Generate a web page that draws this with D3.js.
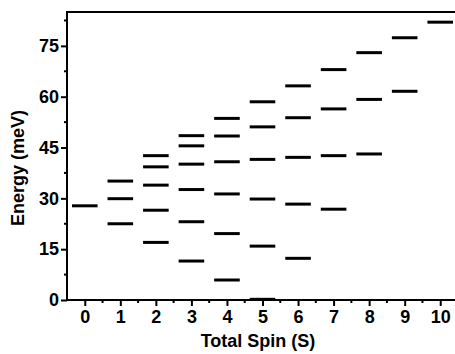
<!DOCTYPE html>
<html>
<head>
<meta charset="utf-8">
<script src="https://cdn.jsdelivr.net/npm/d3@7"></script>
<style>
  body { margin: 0; background: #fff; }
  svg { display: block; overflow: hidden; }
  text { font-family: 'Liberation Sans', Arial, sans-serif; font-weight: bold; fill: #000; }
</style>
</head>
<body>
<div id="chart"></div>
<script>
// total spin values and energy levels (meV)
var spins = [0, 1, 2, 3, 4, 5, 6, 7, 8, 9, 10]
var levels = [
  [27.8],
  [22.5, 29.9, 35.1],
  [17.0, 26.5, 33.9, 39.3, 42.6],
  [11.5, 23.1, 32.6, 40.1, 45.5, 48.5],
  [5.9, 19.6, 31.3, 40.8, 48.4, 53.6],
  [0.2, 15.9, 29.8, 41.5, 51.1, 58.5],
  [12.3, 28.3, 42.1, 53.8, 63.2],
  [26.8, 42.6, 56.4, 68.0],
  [43.1, 59.2, 73.0],
  [61.6, 77.4],
  [82.0]
]
var yTicks = [0, 15, 30, 45, 60, 75]

var width = 455
var height = 354
var margin = { top: 12, right: -3, bottom: 54, left: 67 }

var svg = d3.select('#chart').append('svg')
  .attr('width', width)
  .attr('height', height)

var x = d3.scaleLinear()
  .domain([-0.5, 10.5])
  .range([margin.left, width - margin.right])

var y = d3.scaleLinear()
  .domain([0, 85])
  .range([height - margin.bottom, margin.top])

// frame (right side falls outside the picture)
svg.append('rect')
  .attr('x', x(-0.5))
  .attr('y', y(85))
  .attr('width', x(10.5) - x(-0.5))
  .attr('height', y(0) - y(85))
  .attr('fill', 'none')
  .attr('stroke', '#000')
  .attr('stroke-width', 2)

// minor ticks
var yMinor = d3.range(7.5, 85, 15)
svg.selectAll('.ymin')
  .data(yMinor)
  .enter().append('line')
  .attr('x1', x(-0.5) - 3).attr('x2', x(-0.5))
  .attr('y1', function (d) { return y(d) })
  .attr('y2', function (d) { return y(d) })
  .attr('stroke', '#000').attr('stroke-width', 2)

var xMinor = d3.range(0.5, 10.5, 1)
svg.selectAll('.xmin')
  .data(xMinor)
  .enter().append('line')
  .attr('x1', function (d) { return x(d) })
  .attr('x2', function (d) { return x(d) })
  .attr('y1', y(0)).attr('y2', y(0) + 3)
  .attr('stroke', '#000').attr('stroke-width', 2)

var yAxis = svg.append('g')
  .attr('transform', 'translate(' + x(-0.5) + ',0)')
  .call(d3.axisLeft(y).tickValues(yTicks).tickSize(6).tickPadding(2))

var xAxis = svg.append('g')
  .attr('transform', 'translate(0,' + y(0) + ')')
  .call(d3.axisBottom(x).tickValues(spins).tickSize(6).tickPadding(4))

;[xAxis, yAxis].forEach(function (g) {
  g.select('.domain').remove()
  g.selectAll('line').attr('stroke', '#000').attr('stroke-width', 2)
  g.selectAll('text')
    .style('font-size', '18px')
    .style('font-family', "'Liberation Sans', Arial, sans-serif")
    .style('font-weight', 'bold')
    .attr('fill', '#000')
})

// energy levels
var half = 0.36
spins.forEach(function (s, i) {
  svg.selectAll('.lvl' + s)
    .data(levels[i])
    .enter().append('line')
    .attr('x1', x(s - half))
    .attr('x2', x(s + half))
    .attr('y1', function (d) { return y(d) })
    .attr('y2', function (d) { return y(d) })
    .attr('stroke', '#000')
    .attr('stroke-width', 3)
})

// axis titles
svg.append('text')
  .attr('x', 258)
  .attr('y', 347)
  .style('text-anchor', 'middle')
  .style('font-size', '18px')
  .text('Total Spin (S)')

svg.append('text')
  .attr('transform', 'translate(24,168) rotate(-90)')
  .style('text-anchor', 'middle')
  .style('font-size', '18px')
  .text('Energy (meV)')
</script>
</body>
</html>
